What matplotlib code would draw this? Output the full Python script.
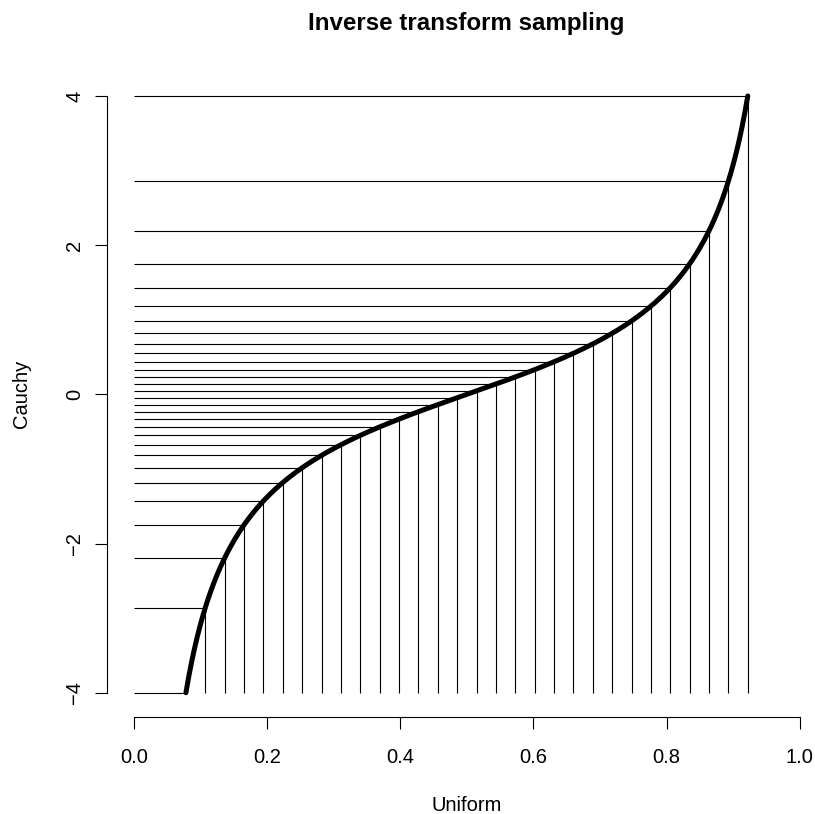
import numpy as np
import matplotlib.pyplot as plt

plt.rcParams['font.family'] = ['Liberation Sans', 'DejaVu Sans']

# uniform draws on an even grid between F(-4) and F(4)
u = [0.0780, 0.1071, 0.1362, 0.1653, 0.1944, 0.2235, 0.2526, 0.2817, 0.3108, 0.3399,
     0.3690, 0.3981, 0.4272, 0.4563, 0.4854, 0.5146, 0.5437, 0.5728, 0.6019, 0.6310,
     0.6601, 0.6892, 0.7183, 0.7474, 0.7765, 0.8056, 0.8347, 0.8638, 0.8929, 0.9220]
# matching Cauchy quantiles
q = [-4.0, -2.8595, -2.1929, -1.7495, -1.4287, -1.1821, -0.9838, -0.8183, -0.6758, -0.5501,
     -0.4363, -0.3316, -0.2327, -0.1380, -0.0458, 0.0458, 0.1380, 0.2327, 0.3316, 0.4363,
     0.5501, 0.6758, 0.8183, 0.9838, 1.1821, 1.4287, 1.7495, 2.1929, 2.8595, 4.0]

x_ticks = [0.0, 0.2, 0.4, 0.6, 0.8, 1.0]
x_labels = ['0.0', '0.2', '0.4', '0.6', '0.8', '1.0']
y_ticks = [-4, -2, 0, 2, 4]
y_labels = ['\u22124', '\u22122', '0', '2', '4']

W, H = 815, 814
fig = plt.figure(figsize=(W / 100, H / 100), dpi=100)
left, right, top, bottom = 107.3, 799.7, 72.0, 716.7
ax = fig.add_axes([left / W, 1 - bottom / H, (right - left) / W, (bottom - top) / H])
ax.set_xlim(-0.0401, 1.0)
ax.set_ylim(-4.32, 4.32)

# quantile function of the standard Cauchy
uu = np.linspace(u[0], u[-1], 400)
ax.plot(uu, np.tan(np.pi * (uu - 0.5)), color='black', lw=3.6,
        solid_capstyle='round', zorder=3)

ax.hlines(q, 0, u, color='black', lw=0.8)
ax.vlines(u, -4, q, color='black', lw=0.8)

for s in ['top', 'right']:
    ax.spines[s].set_visible(False)
ax.spines['left'].set_bounds(-4, 4)
ax.spines['bottom'].set_bounds(0, 1)
for s in ['left', 'bottom']:
    ax.spines[s].set_linewidth(0.8)

ax.set_xticks(x_ticks)
ax.set_xticklabels(x_labels)
ax.set_yticks(y_ticks)
ax.set_yticklabels(y_labels, rotation=90, va='center')
ax.tick_params(length=8.6, width=0.8, labelsize=14.5)
ax.tick_params(axis='x', pad=13.7)
ax.tick_params(axis='y', pad=8.1)

fig.text(466.7 / W, 1 - 811 / H, 'Uniform', ha='center', va='baseline', fontsize=14.5)
fig.text(22 / W, 1 - 394 / H, 'Cauchy', ha='center', va='center', rotation=90,
         fontsize=14.5)
fig.text(466.5 / W, 1 - 30 / H, 'Inverse transform sampling', ha='center',
         va='baseline', fontsize=17.4, fontweight='bold')

fig.savefig('out.png', dpi=100)
